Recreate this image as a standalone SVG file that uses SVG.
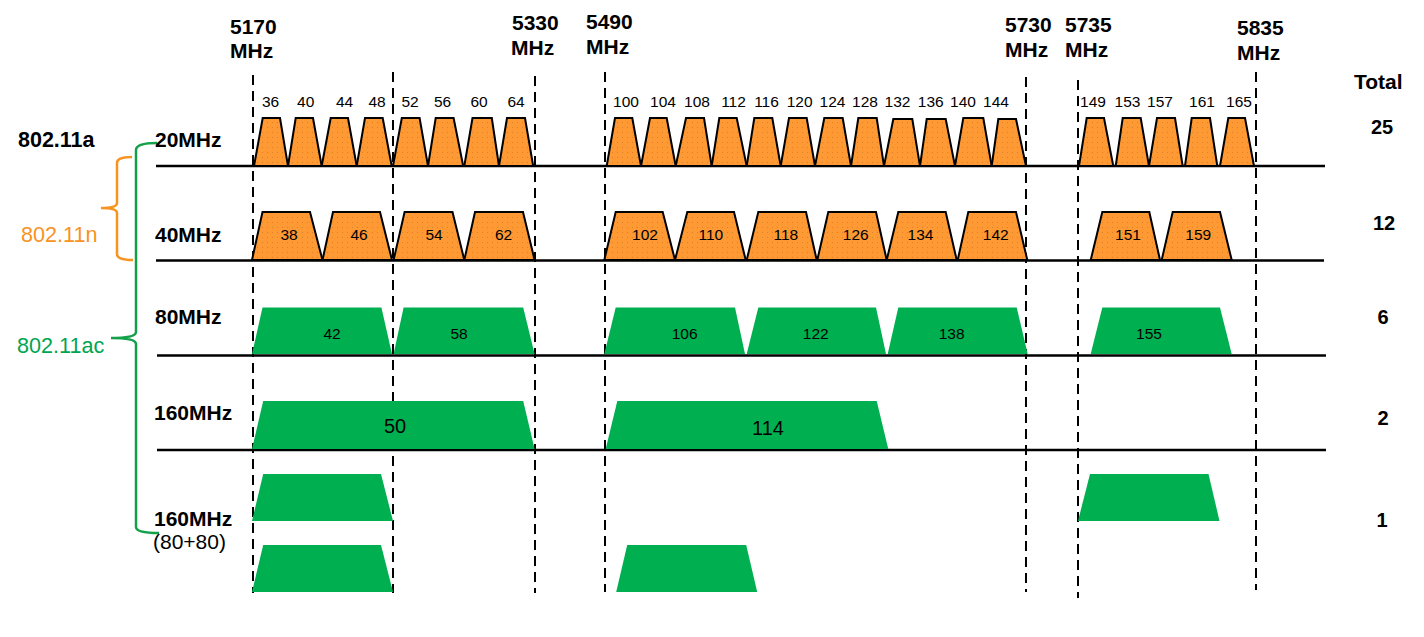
<svg xmlns="http://www.w3.org/2000/svg" width="1424" height="637" viewBox="0 0 1424 637">
<style>
text{font-family:"Liberation Sans",Arial,sans-serif;fill:#000}
.b{font-weight:bold;font-size:21px}
.ch{font-size:15.5px;text-anchor:middle}
.big{font-size:20px;text-anchor:middle}
.tot{font-weight:bold;font-size:20px;text-anchor:middle}
.o{fill:url(#dots);stroke:#000;stroke-width:2;stroke-linejoin:miter}
.g{fill:#00B050;stroke:none}
.row{stroke:#000;stroke-width:2.5;fill:none}
.dash{stroke:#000;stroke-width:2;stroke-dasharray:10 6;fill:none}
</style>
<defs>
<pattern id="dots" width="5" height="5" patternUnits="userSpaceOnUse">
<rect width="5" height="5" fill="#FF9933"/>
<rect x="2" y="2" width="1" height="1" fill="#D9822B"/>
</pattern>
</defs>
<rect width="1424" height="637" fill="#fff"/>

<g id="frequencies">
<text class="b" x="230" y="34">5170</text><text class="b" x="230" y="58">MHz</text>
<text class="b" x="512" y="30">5330</text><text class="b" x="511" y="54.5">MHz</text>
<text class="b" x="586" y="29">5490</text><text class="b" x="586" y="54">MHz</text>
<text class="b" x="1005" y="32">5730</text><text class="b" x="1005" y="57">MHz</text>
<text class="b" x="1065" y="32">5735</text><text class="b" x="1065" y="57">MHz</text>
<text class="b" x="1237" y="35">5835</text><text class="b" x="1237" y="60">MHz</text>
<text class="b" x="1354" y="89">Total</text>
</g>

<g id="connectors">
<line class="dash" x1="253" y1="75" x2="253" y2="593"/>
<line class="dash" x1="393" y1="72" x2="393" y2="593"/>
<line class="dash" x1="535" y1="76" x2="535" y2="593"/>
<line class="dash" x1="605" y1="72" x2="605" y2="592"/>
<line class="dash" x1="1026" y1="77" x2="1026" y2="592"/>
<line class="dash" x1="1078" y1="80" x2="1078" y2="598"/>
<line class="dash" x1="1256" y1="72" x2="1256" y2="590"/>
<line class="row" x1="156" y1="166" x2="1325" y2="166"/>
<line class="row" x1="156" y1="260.5" x2="1324" y2="260.5"/>
<line class="row" x1="157" y1="355.5" x2="1326" y2="355.5"/>
<line class="row" x1="157" y1="450" x2="1326" y2="450"/>
<path d="M132,157 Q117,157 117,163 L117,203 Q117,208 101,208 Q117,208 117,213 L117,254 Q117,260 133,260" fill="none" stroke="#F7931E" stroke-width="2.5"/>
<path d="M157,143 Q136,143 136,150 L136,332 Q136,338 111,338 Q136,338 136,344 L136,527 Q136,533 159,533" fill="none" stroke="#12A04A" stroke-width="2.5"/>
</g>

<g id="standards">
<text x="18" y="146.5" style="font-weight:bold;font-size:21.5px">802.11a</text>
<text x="21" y="241.5" style="font-size:21.6px;fill:#F7931E">802.11n</text>
<text x="17" y="353" style="font-size:21.6px;fill:#00A550">802.11ac</text>
</g>

<g id="widths">
<text class="b" x="155" y="146.5">20MHz</text>
<text class="b" x="155" y="241.5">40MHz</text>
<text class="b" x="155" y="323.5">80MHz</text>
<text class="b" x="154" y="419.5">160MHz</text>
<text class="b" x="154" y="525.5">160MHz</text>
<text x="153" y="549" style="font-size:21px">(80+80)</text>
</g>

<g id="totals">
<text class="tot" x="1382" y="134">25</text>
<text class="tot" x="1384" y="230">12</text>
<text class="tot" x="1383" y="324">6</text>
<text class="tot" x="1383" y="425">2</text>
<text class="tot" x="1382" y="527">1</text>
</g>

<g id="ch20">
<g id="c36"><polygon class="o" points="254,166 262.7,118 280,118 288,166"/><text class="ch" x="270.5" y="107">36</text></g>
<g id="c40"><polygon class="o" points="288,166 295.7,118 313,118 321.7,166"/><text class="ch" x="305.7" y="107">40</text></g>
<g id="c44"><polygon class="o" points="321.7,166 330.7,118 348,118 356.7,166"/><text class="ch" x="344.6" y="107">44</text></g>
<g id="c48"><polygon class="o" points="356.7,166 365,118 382.7,118 391.7,166"/><text class="ch" x="377" y="107">48</text></g>
<g id="c52"><polygon class="o" points="393,166 401.8,118 419.6,118 428,166"/><text class="ch" x="410" y="107">52</text></g>
<g id="c56"><polygon class="o" points="428,166 435.7,118 453.6,118 463.2,166"/><text class="ch" x="442.5" y="107">56</text></g>
<g id="c60"><polygon class="o" points="464.3,166 472.5,118 491.8,118 499,166"/><text class="ch" x="479" y="107">60</text></g>
<g id="c64"><polygon class="o" points="499,166 507,118 525,118 533.2,166"/><text class="ch" x="516" y="107">64</text></g>
<g id="c100"><polygon class="o" points="606.7,166 615,118 632.3,118 641,166"/><text class="ch" x="626" y="107">100</text></g>
<g id="c104"><polygon class="o" points="641,166 650,118 666.7,118 675.7,166"/><text class="ch" x="663" y="107">104</text></g>
<g id="c108"><polygon class="o" points="675.7,166 686,118 704,118 711.7,166"/><text class="ch" x="697" y="107">108</text></g>
<g id="c112"><polygon class="o" points="711.7,166 719.3,118 736.7,118 746.7,166"/><text class="ch" x="733.5" y="107">112</text></g>
<g id="c116"><polygon class="o" points="746.7,166 754.3,118 772.3,118 780.7,166"/><text class="ch" x="766.5" y="107">116</text></g>
<g id="c120"><polygon class="o" points="780.7,166 789,118 806.7,118 815,166"/><text class="ch" x="799.7" y="107">120</text></g>
<g id="c124"><polygon class="o" points="815,166 824.3,118 842.7,118 851,166"/><text class="ch" x="832.5" y="107">124</text></g>
<g id="c128"><polygon class="o" points="851,166 858.3,118 876.7,118 884,166"/><text class="ch" x="865" y="107">128</text></g>
<g id="c132"><polygon class="o" points="884,166 893.3,119 912.3,119 920,166"/><text class="ch" x="897.5" y="107">132</text></g>
<g id="c136"><polygon class="o" points="920,166 926.7,119 945.7,119 955,166"/><text class="ch" x="930.8" y="107">136</text></g>
<g id="c140"><polygon class="o" points="955,166 963.3,118 983.3,118 991.7,166"/><text class="ch" x="963" y="107">140</text></g>
<g id="c144"><polygon class="o" points="991.7,166 998.3,119 1016,119 1026,166"/><text class="ch" x="996" y="107">144</text></g>
<g id="c149"><polygon class="o" points="1079,166 1086.7,118 1104,118 1113.3,166"/><text class="ch" x="1093" y="107">149</text></g>
<g id="c153"><polygon class="o" points="1115.7,166 1122.7,118 1140.7,118 1149,166"/><text class="ch" x="1127.5" y="107">153</text></g>
<g id="c157"><polygon class="o" points="1149,166 1157,118 1175,118 1182.7,166"/><text class="ch" x="1160" y="107">157</text></g>
<g id="c161"><polygon class="o" points="1185,166 1191.7,118 1210,118 1217.3,166"/><text class="ch" x="1202" y="107">161</text></g>
<g id="c165"><polygon class="o" points="1220,166 1228.3,118 1245,118 1254,166"/><text class="ch" x="1239" y="107">165</text></g>
</g>

<g id="ch40">
<g id="c38"><polygon class="o" points="252,260 262.5,212 310,212 322.5,260"/><text class="ch" x="289" y="240">38</text></g>
<g id="c46"><polygon class="o" points="322.5,260 333,212 380,212 392,260"/><text class="ch" x="359" y="240">46</text></g>
<g id="c54"><polygon class="o" points="393.6,260 404.6,212 452.5,212 464.3,260"/><text class="ch" x="434" y="240">54</text></g>
<g id="c62"><polygon class="o" points="464.3,260 475,212 523,212 534.6,260"/><text class="ch" x="503.6" y="240">62</text></g>
<g id="c102"><polygon class="o" points="604.3,260 615.7,212 662.7,212 675,260"/><text class="ch" x="645" y="240">102</text></g>
<g id="c110"><polygon class="o" points="675,260 687.3,212 734,212 745.7,260"/><text class="ch" x="710.8" y="240">110</text></g>
<g id="c118"><polygon class="o" points="746.7,260 758.3,212 806,212 816.7,260"/><text class="ch" x="785.8" y="240">118</text></g>
<g id="c126"><polygon class="o" points="817.3,260 828.3,212 876,212 886.7,260"/><text class="ch" x="855.8" y="240">126</text></g>
<g id="c134"><polygon class="o" points="886.7,260 898.3,212 945.7,212 956.7,260"/><text class="ch" x="920.5" y="240">134</text></g>
<g id="c142"><polygon class="o" points="957.7,260 968.3,212 1016,212 1027.3,260"/><text class="ch" x="995.8" y="240">142</text></g>
<g id="c151"><polygon class="o" points="1090.7,260 1102.3,212 1149.3,212 1160,260"/><text class="ch" x="1128" y="240">151</text></g>
<g id="c159"><polygon class="o" points="1161.7,260 1172.7,212 1220,212 1231.7,260"/><text class="ch" x="1198.3" y="240">159</text></g>
</g>

<g id="ch80">
<g id="c42"><polygon class="g" points="252,354 262.5,307.5 381.4,307.5 392,354"/><text class="ch" x="332" y="338.5">42</text></g>
<g id="c58"><polygon class="g" points="393.6,354 403.6,307.5 523.2,307.5 534.6,354"/><text class="ch" x="459" y="338.5">58</text></g>
<g id="c106"><polygon class="g" points="604.3,354 615.7,307.5 735,307.5 745,354"/><text class="ch" x="684.7" y="339">106</text></g>
<g id="c122"><polygon class="g" points="746.7,354 758.3,307.5 876,307.5 886,354"/><text class="ch" x="815.8" y="339">122</text></g>
<g id="c138"><polygon class="g" points="887.7,354 898.3,307.5 1016.7,307.5 1027.7,354"/><text class="ch" x="951.7" y="339">138</text></g>
<g id="c155"><polygon class="g" points="1090.7,354 1102.3,307.5 1220,307.5 1231.7,354"/><text class="ch" x="1149" y="339">155</text></g>
</g>

<g id="ch160">
<g id="c50"><polygon class="g" points="252,449 263.2,401 523.2,401 534.6,449"/><text class="big" x="395" y="433">50</text></g>
<g id="c114"><polygon class="g" points="605.7,449 617.3,401 876.7,401 888.3,449"/><text class="big" x="768" y="435">114</text></g>
</g>

<g id="ch80p80">
<g id="s1a"><polygon class="g" points="252,521 263.2,474 381,474 393,521"/></g>
<g id="s1b"><polygon class="g" points="252,592 263.2,545 381,545 393,592"/></g>
<g id="s2b"><polygon class="g" points="616.2,592 627.2,545 746.2,545 757.2,592"/></g>
<g id="s3a"><polygon class="g" points="1078,521 1090,474 1208.5,474 1219.5,521"/></g>
</g>
</svg>
